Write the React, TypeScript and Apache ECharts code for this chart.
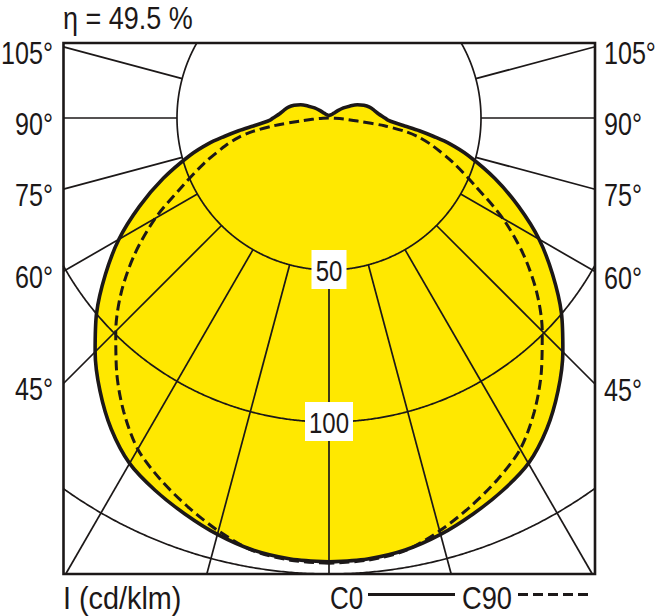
import React, { useEffect, useRef } from "react";
import * as echarts from "echarts";

// Gamma angle (degrees from nadir) and luminous intensity I (cd/klm)
const GAMMA = [0, 5, 10, 15, 20, 25, 30, 35, 40, 45, 50, 55, 60, 65, 70, 75, 78, 80, 82, 84, 86, 88, 90, 95, 100, 105, 110, 115, 120, 125, 130, 135, 140, 150, 160, 170, 180];
const C0_VALUES = [146, 145.6, 144.3, 141.8, 138.6, 135.2, 131.2, 124.9, 117.2, 108.8, 99.8, 89.8, 79.8, 68.8, 58, 47.3, 40.5, 35, 30, 25, 21.5, 19.4, 18.4, 16.3, 15, 13.8, 12.2, 10.3, 7.8, 5.8, 3.8, 2.3, 1.6, 1.2, 1, 0.9, 0.8];
const C90_VALUES = [146.5, 146, 144.5, 140.6, 136, 131.2, 125.8, 117.8, 108.7, 99.2, 89.2, 78, 66, 53.3, 43.8, 35.3, 30.2, 25.4, 18.4, 9.5, 5, 2, 0, 0, 0, 0, 0, 0, 0, 0, 0, 0, 0, 0, 0, 0, 0];

const RINGS = [50, 100, 150];
const RING_LABELS = [50, 100];
const RADIALS = [0, 15, 30, 45, 60, 75, 90, 105];
const SIDE_LABELS = [105, 90, 75, 60, 45];
const TITLE = "η = 49.5 %";
const UNIT_LABEL = "I (cd/klm)";
const LEGEND = ["C0", "C90"];

const RMAX = 150;
const CX = 329;
const CY = 118;
const K = 456 / RMAX; // px per cd/klm
const FL = 63.5, FR = 595, FT = 43, FB = 574;
const INK = "#1c1818";
const YELLOW = "#FFE800";
const FONT = "'Liberation Sans', Arial, Helvetica, sans-serif";

function polarData(values: number[]) {
  const out: number[][] = [];
  const push = (r: number, a: number) => {
    const last = out[out.length - 1];
    if (last && last[0] === 0 && r === 0) return; // skip repeated origin points
    out.push([r, a]);
  };
  for (let i = 0; i < GAMMA.length; i++) push(values[i], GAMMA[i]);
  for (let i = GAMMA.length - 2; i >= 0; i--) push(values[i], 360 - GAMMA[i]);
  return out;
}

const inside = (x: number, y: number) => x >= FL - 0.3 && x <= FR + 0.3 && y >= FT - 0.3 && y <= FB + 0.3;

function ringSegments(rp: number) {
  const pt = (a: number) => [CX + rp * Math.cos(a), CY + rp * Math.sin(a)];
  const a0 = Math.PI / 2;
  const N = 1440;
  const segs: number[][][] = [];
  let cur: number[][] | null = null;
  let prevA = a0;
  const p0 = pt(a0);
  let prevIn = inside(p0[0], p0[1]);
  const startedIn = prevIn;
  if (prevIn) cur = [p0];
  for (let i = 1; i <= N; i++) {
    const a = a0 + (i / N) * 2 * Math.PI;
    const p = pt(a);
    const isIn = inside(p[0], p[1]);
    if (isIn !== prevIn) {
      let lo = prevA, hi = a;
      for (let k = 0; k < 40; k++) {
        const m = (lo + hi) / 2;
        const pm = pt(m);
        if (inside(pm[0], pm[1]) === prevIn) lo = m; else hi = m;
      }
      if (isIn) {
        cur = [pt(hi), p];
      } else {
        if (cur) { cur.push(pt(lo)); segs.push(cur); }
        cur = null;
      }
    } else if (isIn && cur) {
      cur.push(p);
    }
    prevA = a;
    prevIn = isIn;
  }
  if (cur) {
    if (startedIn && segs.length > 0) segs[0] = cur.concat(segs[0]);
    else segs.push(cur);
  }
  return segs;
}

function label(text: string, x: number, y: number, align: string, size: number, scaleX: number) {
  return {
    type: "text", z: 10, x, y, scaleX, scaleY: 1, silent: true,
    style: { text, x: 0, y: 0, fill: INK, fontSize: size, fontFamily: FONT, textAlign: align, align, textVerticalAlign: "middle", verticalAlign: "middle" },
  };
}

function gridGraphics() {
  const els: any[] = [];
  RINGS.forEach((v) => {
    ringSegments(v * K).forEach((seg) => {
      els.push({ type: "polyline", z: 3, silent: true, shape: { points: seg }, style: { stroke: INK, lineWidth: 1.7, fill: null } });
    });
  });
  const r0 = RING_LABELS[0] * K;
  RADIALS.forEach((g) => {
    const sides = g === 0 ? [1] : [-1, 1];
    sides.forEach((s) => {
      const rad = (g * Math.PI) / 180;
      const dx = s * Math.sin(rad);
      const dy = Math.cos(rad);
      let t = Infinity;
      if (Math.abs(dx) > 1e-9) t = Math.min(t, (dx > 0 ? FR - CX : CX - FL) / Math.abs(dx));
      if (dy > 1e-9) t = Math.min(t, (FB - CY) / dy);
      if (dy < -1e-9) t = Math.min(t, (CY - FT) / -dy);
      if (t > r0) {
        els.push({
          type: "line", z: 3, silent: true,
          shape: { x1: CX + r0 * dx, y1: CY + r0 * dy, x2: CX + t * dx, y2: CY + t * dy },
          style: { stroke: INK, lineWidth: 1.7 },
        });
      }
    });
  });
  // frame
  els.push({ type: "rect", z: 4, silent: true, shape: { x: FL, y: FT, width: FR - FL, height: FB - FT }, style: { fill: null, stroke: INK, lineWidth: 2.6 } });
  // side angle labels
  SIDE_LABELS.forEach((g) => {
    const rad = (g * Math.PI) / 180;
    const yl = CY + ((CX - FL) * Math.cos(rad)) / Math.sin(rad) + 6;
    const yr = CY + ((FR - CX) * Math.cos(rad)) / Math.sin(rad) + 6;
    els.push(label(g + "°", 53, yl, "right", 31, 0.81));
    els.push(label(g + "°", 604, yr, "left", 31, 0.81));
  });
  // ring labels
  RING_LABELS.forEach((v) => {
    const y = CY + v * K;
    const txt = String(v);
    const w = txt.length * 13 + 9;
    els.push({ type: "rect", z: 9, silent: true, shape: { x: CX - w / 2, y: y - 20, width: w, height: 39 }, style: { fill: "#ffffff", stroke: null } });
    els.push(label(txt, CX, y + 1, "center", 30, 0.8));
  });
  // title & unit
  els.push(label(TITLE, 63, 18, "left", 31, 0.87));
  els.push(label(UNIT_LABEL, 63, 598, "left", 31, 0.93));
  // legend
  els.push(label(LEGEND[0], 330, 598, "left", 31, 0.84));
  els.push({ type: "line", z: 10, silent: true, shape: { x1: 368, y1: 594.5, x2: 455, y2: 594.5 }, style: { stroke: INK, lineWidth: 3.2 } });
  els.push(label(LEGEND[1], 462, 598, "left", 31, 0.88));
  els.push({ type: "line", z: 10, silent: true, shape: { x1: 518, y1: 594.5, x2: 592, y2: 594.5 }, style: { stroke: INK, lineWidth: 3.2, lineDash: [10, 5] } });
  return els;
}

export default function App() {
  const ref = useRef<HTMLDivElement>(null);
  useEffect(() => {
    if (!ref.current) return;
    const chart = echarts.init(ref.current, undefined, { renderer: "svg" });
    const c0 = polarData(C0_VALUES);
    const c90 = polarData(C90_VALUES);
    chart.setOption({
      animation: false,
      backgroundColor: "#ffffff",
      polar: { center: [CX, CY], radius: RMAX * K },
      radiusAxis: { type: "value", min: 0, max: RMAX, show: false },
      angleAxis: { type: "value", min: 0, max: 360, startAngle: 270, clockwise: true, show: false },
      series: [
        { name: "fill", type: "line", coordinateSystem: "polar", data: c0, symbol: "none", smooth: 0.3, silent: true, z: 1, lineStyle: { width: 0, opacity: 0 }, areaStyle: { color: YELLOW, opacity: 1 } },
        { name: LEGEND[0], type: "line", coordinateSystem: "polar", data: c0, symbol: "none", smooth: 0.3, z: 5, lineStyle: { color: INK, width: 3.6, join: "round" } },
        { name: LEGEND[1], type: "line", coordinateSystem: "polar", data: c90, symbol: "none", smooth: 0.3, z: 6, lineStyle: { color: INK, width: 3, type: [10, 5] } },
      ],
      graphic: { elements: gridGraphics() },
    });
    return () => chart.dispose();
  }, []);
  return <div ref={ref} style={{ position: "fixed", left: 0, top: 0, width: 660, height: 616, background: "#fff" }} />;
}
